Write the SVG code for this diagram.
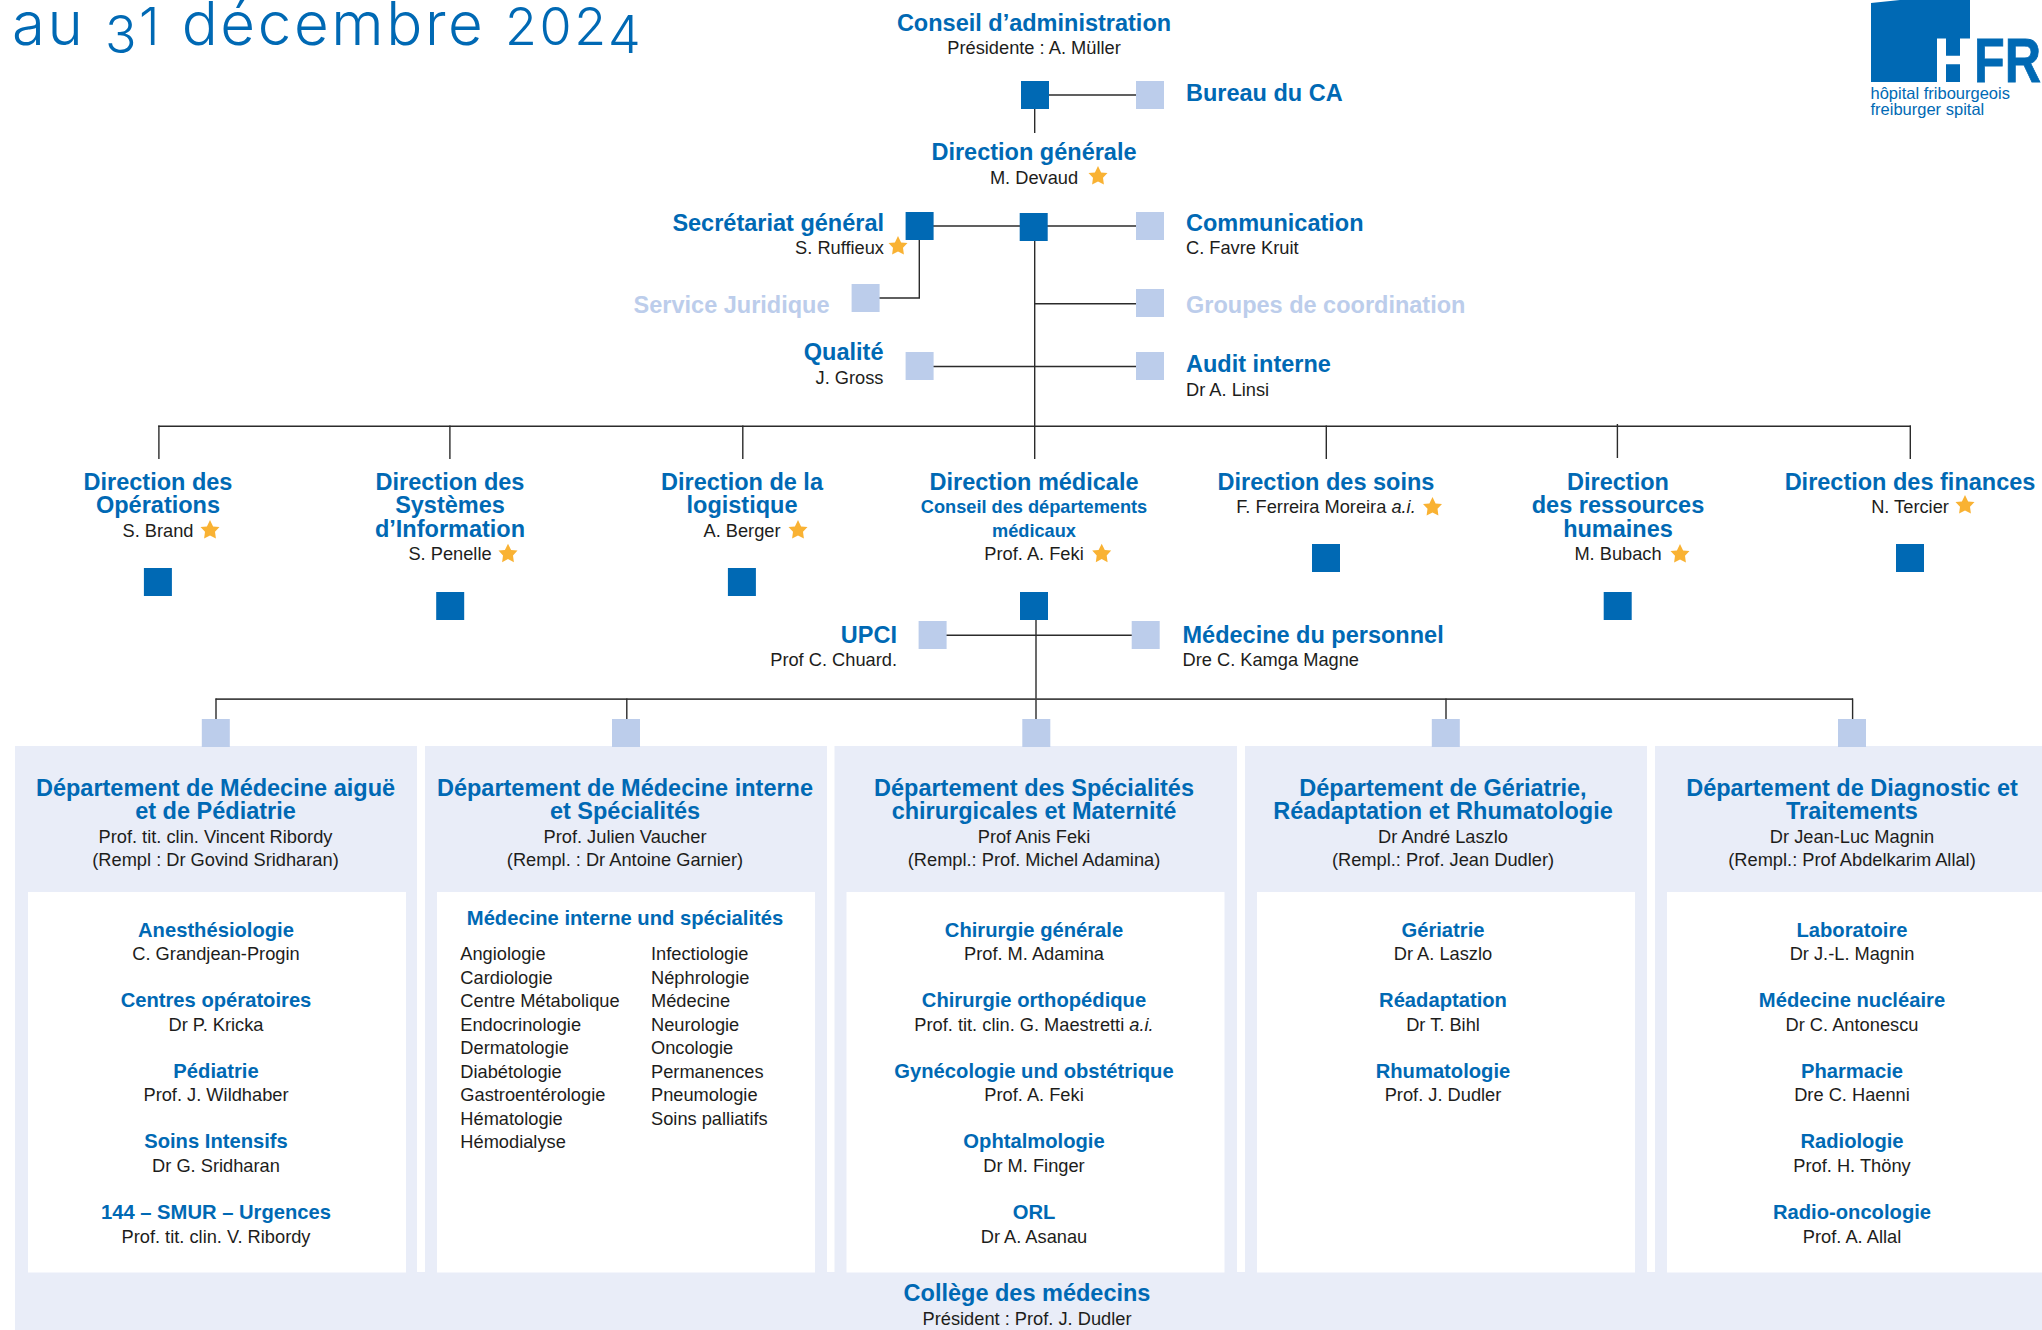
<svg xmlns="http://www.w3.org/2000/svg" width="2042" height="1330" viewBox="0 0 2042 1330">
<style>
text{font-family:"Liberation Sans",Arial,sans-serif;fill:#1d1d1b;font-size:18.25px}
.h{font-weight:700;font-size:23.5px;fill:#0069b4}
.m{font-weight:700;font-size:20.2px;fill:#0069b4}
.b{font-weight:700;font-size:18.2px;fill:#0069b4}
.g{font-weight:700;font-size:23.5px;fill:#bccdeb}
.c{text-anchor:middle}
.r{text-anchor:end}
.d{fill:#0069b4}
.l{fill:#bccdeb}
.p{fill:#e9edf8}
.w{fill:#fff}
.t{font-family:"Inter","Open Sans",sans-serif;font-weight:300;font-size:60px;letter-spacing:2.6px;fill:#0069b4}
.n{font-size:52px}
.lg{font-size:16.5px;fill:#0069b4}
#conn line{stroke:#2b2b2b;stroke-width:1.4;fill:none}
#conn path{stroke:#2b2b2b;stroke-width:1.4;fill:none}
</style>
<defs>
<polygon id="star" fill="#f9b233" points="0,-10 3.1,-3.6 9.5,-3.1 5,1.7 5.9,8.5 0,5.4 -5.9,8.5 -5,1.7 -9.5,-3.1 -3.1,-3.6"/>
<rect id="sd" class="d" x="0" y="0" width="28" height="28"/>
<rect id="sl" class="l" x="0" y="0" width="28" height="28"/>
</defs>
<g id="panels">
<rect class="p" x="15" y="746" width="402" height="527"/>
<rect class="p" x="425" y="746" width="402" height="527"/>
<rect class="p" x="834.5" y="746" width="402.5" height="527"/>
<rect class="p" x="1245" y="746" width="402" height="527"/>
<rect class="p" x="1655" y="746" width="387" height="527"/>
<rect class="p" x="15" y="1272" width="2027" height="58"/>
<rect class="w" x="28" y="892" width="378" height="380.5"/>
<rect class="w" x="437" y="892" width="378" height="380.5"/>
<rect class="w" x="846.5" y="892" width="378" height="380.5"/>
<rect class="w" x="1257" y="892" width="378" height="380.5"/>
<rect class="w" x="1667" y="892" width="375" height="380.5"/>
</g>
<g id="conn">
<line x1="1049" y1="95" x2="1136" y2="95"/>
<line x1="1034.7" y1="109" x2="1034.7" y2="133"/>
<line x1="933" y1="226" x2="1136" y2="226"/>
<line x1="1034.7" y1="240" x2="1034.7" y2="459"/>
<path d="M919.3 240V298H879"/>
<line x1="1034.7" y1="303.7" x2="1136" y2="303.7"/>
<line x1="933" y1="366.5" x2="1136" y2="366.5"/>
<line x1="158.2" y1="426.2" x2="1911" y2="426.2"/>
<line x1="158.9" y1="425.5" x2="158.9" y2="459"/>
<line x1="449.9" y1="425.5" x2="449.9" y2="459"/>
<line x1="742.8" y1="425.5" x2="742.8" y2="459"/>
<line x1="1326.3" y1="425.5" x2="1326.3" y2="459"/>
<line x1="1617.4" y1="424" x2="1617.4" y2="458"/>
<line x1="1910.3" y1="425.5" x2="1910.3" y2="459"/>
<line x1="946" y1="635.3" x2="1132" y2="635.3"/>
<line x1="1036" y1="620" x2="1036" y2="719"/>
<line x1="215.5" y1="699.2" x2="1853" y2="699.2" style="stroke-width:1.8;stroke:#444"/>
<line x1="216" y1="698.5" x2="216" y2="719"/>
<line x1="626.8" y1="698.5" x2="626.8" y2="719"/>
<line x1="1446" y1="698.5" x2="1446" y2="719"/>
<line x1="1852.6" y1="698.5" x2="1852.6" y2="719"/>
</g>
<g id="title"><text class="t" x="12" y="45">au <tspan class="n" dy="8">3</tspan><tspan class="n" dy="-8">1</tspan> décembre <tspan class="n">202</tspan><tspan class="n" dy="8">4</tspan></text></g>
<g id="logo">
<polygon class="d" points="1871,3 1900,0 1970,0 1970,38.5 1960,38.5 1960,82 1946,82 1946,64.3 1960,64.3 1960,55.7 1946,55.7 1946,38.5 1937,38.5 1937,82 1871,82"/>
<text x="1974" y="82" textLength="67" lengthAdjust="spacingAndGlyphs" style="font-weight:700;font-size:63px;fill:#0069b4;stroke:#0069b4;stroke-width:.8">FR</text>
<text class="lg" x="1870.5" y="99">hôpital fribourgeois</text>
<text class="lg" x="1870.5" y="115">freiburger spital</text>
</g>
<g id="conseil"><text class="h c" x="1034" y="31">Conseil d’administration</text><text class="c" x="1034" y="53.5">Présidente : A. Müller</text><use href="#sd" x="1021" y="81"/></g>
<g id="bureau"><use href="#sl" x="1136" y="81"/><text class="h" x="1186" y="101">Bureau du CA</text></g>
<g id="dg"><text class="h c" x="1034" y="160">Direction générale</text><text class="c" x="1034" y="184">M. Devaud</text><use href="#star" x="1098" y="176"/><use href="#sd" x="1019.7" y="213"/></g>
<g id="secretariat"><text class="h r" x="884" y="230.5">Secrétariat général</text><text class="r" x="884" y="254">S. Ruffieux</text><use href="#star" x="898" y="246"/><use href="#sd" x="905.6" y="212"/></g>
<g id="juridique"><use href="#sl" x="851.6" y="284"/><text class="g r" x="829.5" y="312.5">Service Juridique</text></g>
<g id="qualite"><text class="h r" x="883.5" y="360">Qualité</text><text class="r" x="883.5" y="383.5">J. Gross</text><use href="#sl" x="905.6" y="352"/></g>
<g id="communication"><use href="#sl" x="1136" y="212"/><text class="h" x="1186" y="230.5">Communication</text><text x="1186" y="254">C. Favre Kruit</text></g>
<g id="groupes"><use href="#sl" x="1136" y="289"/><text class="g" x="1186" y="312.5">Groupes de coordination</text></g>
<g id="audit"><use href="#sl" x="1136" y="352"/><text class="h" x="1186" y="371.5">Audit interne</text><text x="1186" y="395.8">Dr A. Linsi</text></g>
<g id="d-operations"><text class="h c" x="158" y="490">Direction des</text><text class="h c" x="158" y="513">Opérations</text><text class="c" x="158" y="536.7">S. Brand</text><use href="#star" x="210" y="530"/><use href="#sd" x="143.9" y="568"/></g>
<g id="d-si"><text class="h c" x="450" y="490">Direction des</text><text class="h c" x="450" y="513">Systèmes</text><text class="h c" x="450" y="536.7">d’Information</text><text class="c" x="450" y="560">S. Penelle</text><use href="#star" x="508" y="553.7"/><use href="#sd" x="436.2" y="592"/></g>
<g id="d-logistique"><text class="h c" x="742" y="490">Direction de la</text><text class="h c" x="742" y="513">logistique</text><text class="c" x="742" y="536.7">A. Berger</text><use href="#star" x="798" y="530"/><use href="#sd" x="727.9" y="568"/></g>
<g id="d-medicale"><text class="h c" x="1034" y="490">Direction médicale</text><text class="b c" x="1034" y="512.7">Conseil des départements</text><text class="b c" x="1034" y="536.5">médicaux</text><text class="c" x="1034" y="560">Prof. A. Feki</text><use href="#star" x="1101.7" y="553.7"/><use href="#sd" x="1020" y="592"/></g>
<g id="d-soins"><text class="h c" x="1326" y="490">Direction des soins</text><text class="c" x="1326" y="512.7">F. Ferreira Moreira <tspan font-style="italic">a.i.</tspan></text><use href="#star" x="1432.5" y="507"/><use href="#sd" x="1312" y="544"/></g>
<g id="d-rh"><text class="h c" x="1618" y="490">Direction</text><text class="h c" x="1618" y="513">des ressources</text><text class="h c" x="1618" y="536.7">humaines</text><text class="c" x="1618" y="560">M. Bubach</text><use href="#star" x="1680" y="554"/><use href="#sd" x="1603.7" y="592"/></g>
<g id="d-finances"><text class="h c" x="1910" y="490">Direction des finances</text><text class="c" x="1910" y="512.7">N. Tercier</text><use href="#star" x="1965" y="505"/><use href="#sd" x="1896" y="544"/></g>
<g id="upci"><text class="h r" x="897" y="642.7">UPCI</text><text class="r" x="897" y="666">Prof C. Chuard.</text><use href="#sl" x="918.6" y="621"/></g>
<g id="medpers"><use href="#sl" x="1131.7" y="621"/><text class="h" x="1182.5" y="642.7">Médecine du personnel</text><text x="1182.5" y="666">Dre C. Kamga Magne</text></g>
<g id="dept1"><use href="#sl" x="201.8" y="719"/><text class="h c" x="215.5" y="796">Département de Médecine aiguë</text><text class="h c" x="215.5" y="819">et de Pédiatrie</text><text class="c" x="215.5" y="843">Prof. tit. clin. Vincent Ribordy</text><text class="c" x="215.5" y="866">(Rempl : Dr Govind Sridharan)</text>
<text class="m c" x="216" y="936.7">Anesthésiologie</text><text class="c" x="216" y="960">C. Grandjean-Progin</text>
<text class="m c" x="216" y="1006.7">Centres opératoires</text><text class="c" x="216" y="1031">Dr P. Kricka</text>
<text class="m c" x="216" y="1077.7">Pédiatrie</text><text class="c" x="216" y="1101">Prof. J. Wildhaber</text>
<text class="m c" x="216" y="1148">Soins Intensifs</text><text class="c" x="216" y="1172">Dr G. Sridharan</text>
<text class="m c" x="216" y="1219">144 – SMUR – Urgences</text><text class="c" x="216" y="1243">Prof. tit. clin. V. Ribordy</text></g>
<g id="dept2"><use href="#sl" x="612" y="719"/><text class="h c" x="625" y="796">Département de Médecine interne</text><text class="h c" x="625" y="819">et Spécialités</text><text class="c" x="625" y="843">Prof. Julien Vaucher</text><text class="c" x="625" y="866">(Rempl. : Dr Antoine Garnier)</text>
<text class="m c" x="625" y="925">Médecine interne und spécialités</text>
<text x="460.3" y="960">Angiologie</text><text x="460.3" y="984">Cardiologie</text><text x="460.3" y="1006.7">Centre Métabolique</text><text x="460.3" y="1030.7">Endocrinologie</text><text x="460.3" y="1054">Dermatologie</text><text x="460.3" y="1078">Diabétologie</text><text x="460.3" y="1101">Gastroentérologie</text><text x="460.3" y="1125">Hématologie</text><text x="460.3" y="1148">Hémodialyse</text>
<text x="651" y="960">Infectiologie</text><text x="651" y="984">Néphrologie</text><text x="651" y="1006.7">Médecine</text><text x="651" y="1030.7">Neurologie</text><text x="651" y="1054">Oncologie</text><text x="651" y="1078">Permanences</text><text x="651" y="1101">Pneumologie</text><text x="651" y="1125">Soins palliatifs</text></g>
<g id="dept3"><use href="#sl" x="1022.3" y="719"/><text class="h c" x="1034" y="796">Département des Spécialités</text><text class="h c" x="1034" y="819">chirurgicales et Maternité</text><text class="c" x="1034" y="843">Prof Anis Feki</text><text class="c" x="1034" y="866">(Rempl.: Prof. Michel Adamina)</text>
<text class="m c" x="1034" y="936.7">Chirurgie générale</text><text class="c" x="1034" y="960">Prof. M. Adamina</text>
<text class="m c" x="1034" y="1006.7">Chirurgie orthopédique</text><text class="c" x="1034" y="1031">Prof. tit. clin. G. Maestretti <tspan font-style="italic">a.i.</tspan></text>
<text class="m c" x="1034" y="1077.7">Gynécologie und obstétrique</text><text class="c" x="1034" y="1101">Prof. A. Feki</text>
<text class="m c" x="1034" y="1148">Ophtalmologie</text><text class="c" x="1034" y="1172">Dr M. Finger</text>
<text class="m c" x="1034" y="1219">ORL</text><text class="c" x="1034" y="1243">Dr A. Asanau</text></g>
<g id="dept4"><use href="#sl" x="1431.8" y="719"/><text class="h c" x="1443" y="796">Département de Gériatrie,</text><text class="h c" x="1443" y="819">Réadaptation et Rhumatologie</text><text class="c" x="1443" y="843">Dr André Laszlo</text><text class="c" x="1443" y="866">(Rempl.: Prof. Jean Dudler)</text>
<text class="m c" x="1443" y="936.7">Gériatrie</text><text class="c" x="1443" y="960">Dr A. Laszlo</text>
<text class="m c" x="1443" y="1006.7">Réadaptation</text><text class="c" x="1443" y="1031">Dr T. Bihl</text>
<text class="m c" x="1443" y="1077.7">Rhumatologie</text><text class="c" x="1443" y="1101">Prof. J. Dudler</text></g>
<g id="dept5"><use href="#sl" x="1838" y="719"/><text class="h c" x="1852" y="796">Département de Diagnostic et</text><text class="h c" x="1852" y="819">Traitements</text><text class="c" x="1852" y="843">Dr Jean-Luc Magnin</text><text class="c" x="1852" y="866">(Rempl.: Prof Abdelkarim Allal)</text>
<text class="m c" x="1852" y="936.7">Laboratoire</text><text class="c" x="1852" y="960">Dr J.-L. Magnin</text>
<text class="m c" x="1852" y="1006.7">Médecine nucléaire</text><text class="c" x="1852" y="1031">Dr C. Antonescu</text>
<text class="m c" x="1852" y="1077.7">Pharmacie</text><text class="c" x="1852" y="1101">Dre C. Haenni</text>
<text class="m c" x="1852" y="1148">Radiologie</text><text class="c" x="1852" y="1172">Prof. H. Thöny</text>
<text class="m c" x="1852" y="1219">Radio-oncologie</text><text class="c" x="1852" y="1243">Prof. A. Allal</text></g>
<g id="college"><text class="h c" x="1027" y="1300.5">Collège des médecins</text><text class="c" x="1027" y="1325">Président : Prof. J. Dudler</text></g>
</svg>
